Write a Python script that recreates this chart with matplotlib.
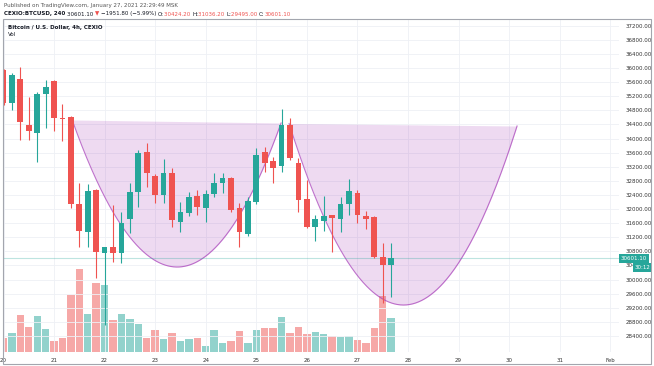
import numpy as np
import matplotlib.pyplot as plt
from matplotlib.patches import Rectangle

# 4h candles, BTC/USD CEX.IO, 20 Jan 00:00 -> 27 Jan 16:00
opens = [35946, 35001, 35682, 34386, 34167, 35265, 35643, 34570, 34621, 32145,
         31340, 32542, 30766, 30933, 30766, 31710, 32493, 33629, 32928, 32400,
         33016, 31645, 31901, 32383, 32023, 32428, 32752, 32875, 32034, 31289,
         32193, 33629, 33365, 33223, 34386, 33318, 32277, 31492, 31673, 31828,
         31719, 32145, 32457, 31804, 31785, 30633, 30424.2]
highs = [35980, 35870, 36040, 35172, 35330, 35662, 35662, 34974, 34640, 32732,
         32712, 32560, 30933, 32116, 31929, 32732, 33676, 33866, 33000, 33413,
         33158, 32210, 32493, 32542, 32542, 33035, 33016, 32900, 32177, 32355,
         33724, 33771, 33487, 34831, 34576, 33450, 32826, 31838, 32385, 31840,
         32355, 32854, 32542, 31957, 31800, 31046, 31036.2]
lows = [34960, 34811, 33960, 33960, 33345, 34292, 34224, 33940, 32023, 30933,
        30933, 30045, 28712, 30508, 30462, 31314, 32068, 32637, 32165, 32165,
        31502, 31340, 31794, 31838, 31645, 32350, 32457, 31929, 30933, 31237,
        32150, 33062, 32732, 33062, 33393, 31929, 31455, 31081, 31388, 30791,
        31340, 31828, 31600, 31435, 30600, 29350, 29495.0]
closes = [35001, 35804, 34480, 34216, 35265, 35455, 34576, 34550, 32145, 31388,
          32503, 30791, 30919, 30746, 31600, 32493, 33582, 33016, 32400, 33016,
          31692, 31929, 32355, 32071, 32428, 32750, 32875, 31980, 31353, 32242,
          33534, 33300, 33158, 34386, 33441, 32272, 31502, 31719, 31804, 31735,
          32145, 32522, 31838, 31710, 30650, 30400, 30601.1]
volumes = [140, 190, 370, 250, 360, 230, 110, 140, 570, 830,
           380, 690, 670, 320, 380, 330, 280, 140, 220, 130,
           190, 110, 130, 140, 60, 220, 90, 110, 210, 90,
           220, 240, 240, 350, 190, 250, 180, 200, 180, 160,
           150, 160, 120, 90, 240, 560, 340]

day_labels = ['20', '21', '22', '23', '24', '25', '26', '27', '28', '29', '30', '31', 'Feb']
price_ticks = [28400, 28800, 29200, 29600, 30000, 30400, 30800, 31200, 31600, 32000,
               32400, 32800, 33200, 33600, 34000, 34400, 34800, 35200, 35600, 36000,
               36400, 36800, 37200]
last_price = 30601.1

# drawn arcs: (bar start, price start, bar end, price end, price at bottom)
arc1 = (8.15, 34528, 32.94, 34443, 30357)
arc2 = (33.89, 34428, 60.94, 34357, 29279)

UP = '#26a69a'
DOWN = '#ef5350'
W, H = 654, 366

fig = plt.figure(figsize=(W / 100, H / 100), dpi=100)
rect = [3.5 / W, (H - 352) / H, (619 - 3.5) / W, (352 - 20) / H]

vax = fig.add_axes(rect)
ax = fig.add_axes(rect)
ax.patch.set_visible(False)

n = len(opens)
idx = np.arange(n)
up = [c >= o for o, c in zip(opens, closes)]

# volume
vcol = [UP if u else DOWN for u in up]
vax.bar(idx, volumes, width=0.88, color=vcol, alpha=0.5, lw=0)
vax.set_ylim(0, 3320)
vax.set_xlim(0.0, (619 - 3.3) / 8.43)
vax.axis('off')

# arcs
for x0, p0, x1, p1, pb in (arc1, arc2):
    xs = np.linspace(x0, x1, 300)
    t = (xs - x0) / (x1 - x0)
    chord = p0 + (p1 - p0) * t
    d = (p0 + p1) / 2 - pb
    curve = chord - 4 * d * t * (1 - t)
    ax.fill_between(xs, curve, chord, color='#9c27b0', alpha=0.17, lw=0, zorder=1)
    ax.plot(xs, curve, color='#ab47bc', lw=0.8, alpha=0.75, zorder=1.5)

# candles
col = [UP if u else DOWN for u in up]
ax.vlines(idx, lows, highs, colors=col, lw=0.8, zorder=3)
bottoms = [min(o, c) for o, c in zip(opens, closes)]
heights = [max(abs(c - o), 15) for o, c in zip(opens, closes)]
ax.bar(idx, heights, bottom=bottoms, width=0.68, color=col, lw=0, zorder=4)

ax.axhline(last_price, color=UP, lw=0.8, alpha=0.3, zorder=2)

ax.set_xlim(0.0, (619 - 3.3) / 8.43)
ax.set_ylim(27946, 37364)
ax.set_yticks(price_ticks)
ax.set_yticklabels(['%.2f' % p for p in price_ticks])
ax.yaxis.tick_right()
ax.set_xticks(range(0, 6 * len(day_labels), 6))
ax.set_xticklabels(day_labels)
ax.tick_params(axis='y', length=0, pad=5, labelsize=4, labelcolor='#333333')
ax.tick_params(axis='x', length=0, pad=4, labelsize=4, labelcolor='#333333')
ax.grid(color='#eef0f5', lw=0.6)
ax.set_axisbelow(True)
for s in ax.spines.values():
    s.set_visible(False)

# last price labels
ax.annotate('30601.10', xy=(1, last_price), xycoords=('axes fraction', 'data'),
            xytext=(1.5, 0), textcoords='offset points', ha='left', va='center',
            color='white', fontsize=4, annotation_clip=False, zorder=10,
            bbox=dict(boxstyle='square,pad=0.3', fc=UP, ec='none'))
ax.annotate('30:12', xy=(1, last_price), xycoords=('axes fraction', 'data'),
            xytext=(11, -6.5), textcoords='offset points', ha='left', va='center',
            color='white', fontsize=4, annotation_clip=False, zorder=10,
            bbox=dict(boxstyle='square,pad=0.3', fc=UP, ec='none'))

# frame
fig.patches.append(Rectangle((3 / W, 2 / H), 648 / W, (364 - 19) / H,
                             transform=fig.transFigure, fill=False,
                             ec='#a3a6ae', lw=0.8))

# header
fig.text(4 / W, 1 - 5 / H, 'Published on TradingView.com, January 27, 2021 22:29:49 MSK',
         fontsize=4, color='#555555', va='center')

renderer = fig.canvas.get_renderer()
x = 4 / W
parts = [('CEXIO:BTCUSD, 240 ', '#131722', 'bold'), ('30601.10 ', '#131722', 'normal'),
         ('\u25bc ', DOWN, 'normal'), ('\u22121951.80 (\u22125.99%) ', '#131722', 'normal'),
         ('O:', '#131722', 'normal'), ('30424.20 ', DOWN, 'normal'),
         ('H:', '#131722', 'normal'), ('31036.20 ', DOWN, 'normal'),
         ('L:', '#131722', 'normal'), ('29495.00 ', DOWN, 'normal'),
         ('C:', '#131722', 'normal'), ('30601.10', DOWN, 'normal')]
for s, c, w in parts:
    t = fig.text(x, 1 - 14 / H, s, fontsize=4, color=c, fontweight=w, va='center')
    bb = t.get_window_extent(renderer)
    x += bb.width / W

fig.text(8 / W, 1 - 27 / H, 'Bitcoin / U.S. Dollar, 4h, CEXIO', fontsize=4,
         fontweight='bold', color='#131722', va='center')
fig.text(8 / W, 1 - 34 / H, 'Vol', fontsize=4, color='#131722', va='center')

fig.savefig('out.png', dpi=100)
